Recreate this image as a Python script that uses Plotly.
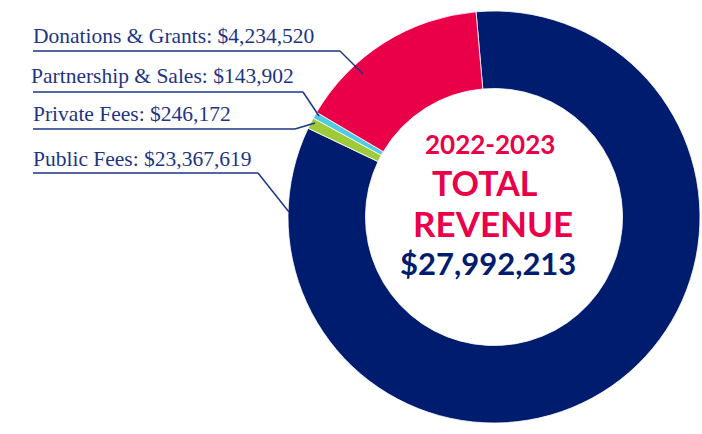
import plotly.graph_objects as go

W, H = 702, 434

categories = ["Public Fees", "Private Fees", "Partnership & Sales", "Donations & Grants"]
values = [23367619, 246172, 143902, 4234520]
colors = ["#001c6e", "#9fcb3b", "#4fcbe2", "#ea0049"]

title_year = "2022-2023"
title_lines = ["TOTAL", "REVENUE"]

def px(x):
    return x / W

def py(y):
    return 1 - y / H

total = sum(values)

fig = go.Figure()
fig.add_trace(go.Pie(
    labels=categories,
    values=values,
    hole=0.624,
    sort=False,
    direction="clockwise",
    rotation=-5,
    marker=dict(colors=colors, line=dict(color="white", width=0.8)),
    textinfo="none",
    hoverinfo="label+value",
    showlegend=False,
    domain=dict(x=[px(288), px(700)], y=[py(423), py(11)]),
))

# label layout: text left x, text middle y, underline y, underline end x, leader end x, leader end y
label_layout = {
    "Donations & Grants": (31, 36, 51, 340, 363, 74),
    "Partnership & Sales": (29, 76, 92, 303, 319, 116),
    "Private Fees": (31, 114, 129, 295, 315, 123),
    "Public Fees": (31, 159, 173, 258, 289, 212),
}

navy_text = "#1d3584"
annotations = []
shapes = []
for cat, val in zip(categories, values):
    tx, ty, uy, ux, lx, ly = label_layout[cat]
    annotations.append(dict(
        x=px(tx), y=py(ty), xref="paper", yref="paper",
        xanchor="left", yanchor="middle", showarrow=False,
        text=f"{cat}: ${val:,}",
        font=dict(family="Liberation Serif", size=21.5, color=navy_text),
    ))
    shapes.append(dict(type="line", xref="paper", yref="paper",
                       x0=px(33), y0=py(uy), x1=px(ux), y1=py(uy),
                       line=dict(color=navy_text, width=1.5)))
    shapes.append(dict(type="line", xref="paper", yref="paper",
                       x0=px(ux), y0=py(uy), x1=px(lx), y1=py(ly),
                       line=dict(color=navy_text, width=1.5)))

red = "#ea0049"
navy = "#001c6e"
center_texts = [
    (f"<b>{title_year}</b>", 490, 144, 26, red),
    (f"<b>{title_lines[0]}</b>", 485, 182, 34, red),
    (f"<b>{title_lines[1]}</b>", 493, 223, 35, red),
    (f"<b>${total:,}</b>", 488, 263, 31, navy),
]
for txt, cx, cy, size, col in center_texts:
    annotations.append(dict(x=px(cx), y=py(cy), xref="paper", yref="paper",
                            xanchor="center", yanchor="middle",
                            showarrow=False, text=txt,
                            font=dict(family="Lato", size=size, color=col)))

fig.update_layout(
    width=W, height=H,
    margin=dict(l=0, r=0, t=0, b=0),
    paper_bgcolor="white", plot_bgcolor="white",
    annotations=annotations, shapes=shapes,
)

fig.write_html("out.html", config={"displayModeBar": False},
               post_script="document.body.style.margin='0';")
